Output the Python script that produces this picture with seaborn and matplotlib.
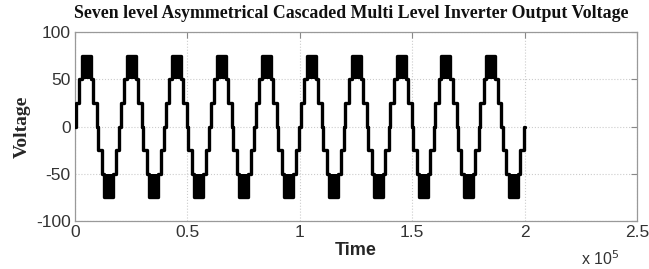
import numpy as np
import pandas as pd
import matplotlib
matplotlib.use("Agg")
import matplotlib.pyplot as plt
import seaborn as sns
from matplotlib.ticker import FuncFormatter

# ---- data ----
period = 20000          # time units per cycle
n_cycles = 10
# switching instants inside one cycle and the level held from each instant
step_start = [0, 300, 1900, 3000, 7000, 8100, 9700, 10300, 11900, 13000, 17000, 18100, 19700]
step_level = [0, 25, 50, 75, 50, 25, 0, -25, -50, -75, -50, -25, 0]
# high-frequency switching bands (start, end, low, high) inside one cycle
band_start = [3000, 13000]
band_end = [7000, 17000]
band_low = [50, -75]
band_high = [75, -50]
end_time = 200000
end_level = 0

x_ticks = [0, 50000, 100000, 150000, 200000, 250000]
y_ticks = [-100, -50, 0, 50, 100]

title = "Seven level Asymmetrical Cascaded Multi Level Inverter Output Voltage"

# ---- build table ----
t, v = [], []
for c in range(n_cycles):
    for s, l in zip(step_start, step_level):
        t.append(c * period + s)
        v.append(l)
t.append(end_time)
v.append(end_level)
df = pd.DataFrame({"Time": t, "Voltage": v})

sns.set_theme(style="white")
plt.rcParams["font.family"] = ["Liberation Sans", "DejaVu Sans"]
plt.rcParams["axes.unicode_minus"] = False

fig = plt.figure(figsize=(6.49, 2.69), dpi=100)
ax = fig.add_axes([0.1156, 0.178, 0.866, 0.703])

for c in range(n_cycles):
    for bs, be, bl, bh in zip(band_start, band_end, band_low, band_high):
        ax.fill_between([c * period + bs, c * period + be], [bl, bl], [bh, bh],
                        color="black", lw=0, zorder=3)

sns.lineplot(data=df, x="Time", y="Voltage", drawstyle="steps-post", color="black",
             lw=2.4, estimator=None, sort=False, ax=ax, zorder=4)

ax.set_xlim(0, 250000)
ax.set_ylim(-100, 100)
ax.set_xticks(x_ticks)
ax.set_yticks(y_ticks)
ax.xaxis.set_major_formatter(FuncFormatter(lambda val, pos: "%g" % (val / 1e5)))
ax.tick_params(direction="in", length=4, width=0.8, colors="#888888", labelcolor="#333333",
               labelsize=12.5, top=True, right=True, pad=3)
for sp in ax.spines.values():
    sp.set_color("#999999")
    sp.set_linewidth(0.9)
ax.grid(True, linestyle=":", color="#cccccc", linewidth=0.8)

fig.text(0.5415, 0.948, title, fontsize=12.8, fontweight="bold", family=["Liberation Serif"],
         ha="center", va="center", color="#111111")
ax.set_ylabel("Voltage", fontsize=14, fontweight="bold", family=["Liberation Serif"], labelpad=4)
ax.set_xlabel("Time", fontsize=13, fontweight="bold",
              family=["Liberation Sans Narrow", "Liberation Sans"], labelpad=1)
ax.text(0.935, -0.2, r"x 10$^5$", transform=ax.transAxes, fontsize=11.5, color="#333333",
        ha="center", va="center")

fig.savefig("out.png", dpi=100)
